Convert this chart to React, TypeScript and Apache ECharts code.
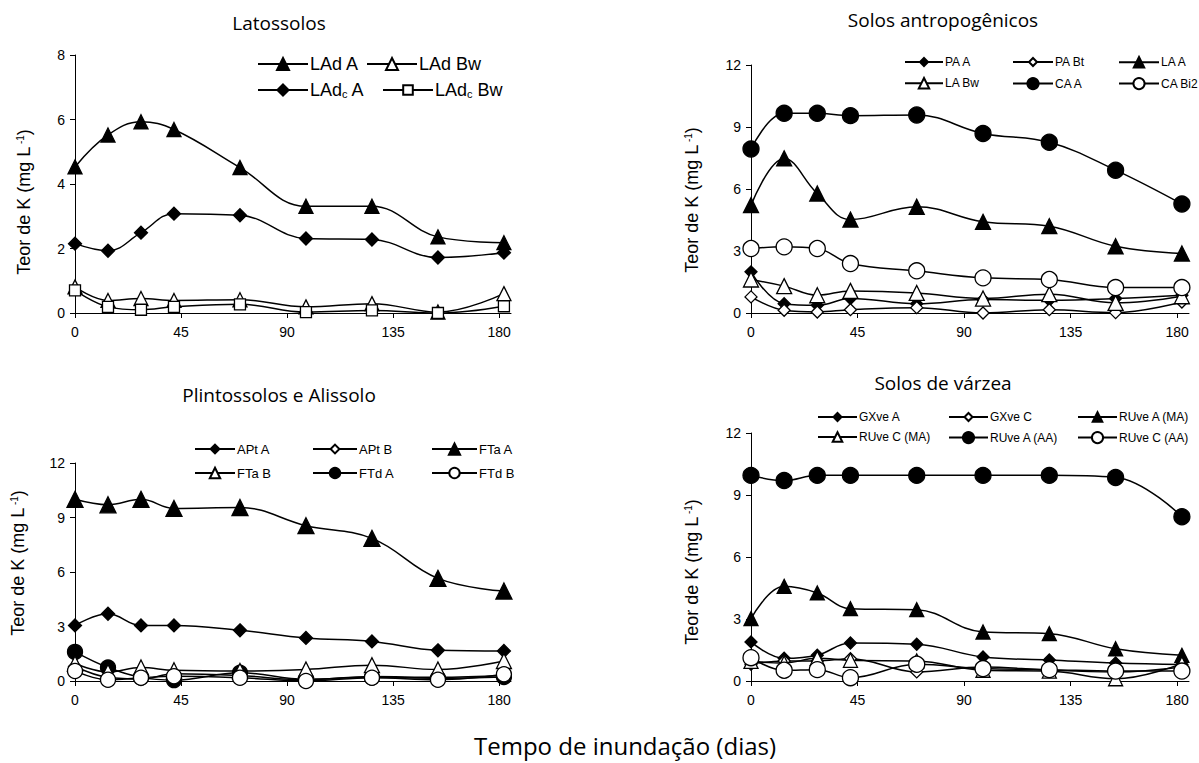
import React, { useEffect, useRef } from 'react';
import * as echarts from 'echarts';

// Sampling days (x values)
const days = [0, 14, 28, 42, 70, 98, 126, 154, 182];
const xTickValues = [0, 45, 90, 135, 180];

// Latossolos
const LAdA = [4.53, 5.52, 5.93, 5.69, 4.51, 3.31, 3.31, 2.36, 2.18];
const LAdBw = [0.81, 0.39, 0.45, 0.39, 0.41, 0.19, 0.29, 0.03, 0.6];
const LAdcA = [2.15, 1.93, 2.49, 3.08, 3.03, 2.31, 2.28, 1.72, 1.87];
const LAdcBw = [0.7, 0.19, 0.1, 0.19, 0.27, 0.03, 0.08, 0, 0.21];

// Solos antropogênicos
const PA_A = [1.99, 0.45, 0.37, 0.7, 0.45, 0.65, 0.62, 0.7, 0.86];
const PA_Bt = [0.78, 0.13, 0.05, 0.16, 0.26, 0, 0.16, 0.02, 0.53];
const LA_A = [5.22, 7.48, 5.78, 4.52, 5.14, 4.41, 4.2, 3.23, 2.88];
const LA_Bw = [1.62, 1.3, 0.86, 1.07, 0.97, 0.7, 0.91, 0.49, 0.81];
const CA_A = [7.93, 9.66, 9.66, 9.55, 9.58, 8.69, 8.26, 6.91, 5.27];
const CA_Bi2 = [3.12, 3.2, 3.12, 2.39, 2.04, 1.7, 1.62, 1.23, 1.23];

// Plintossolos e Alissolo
const APt_A = [3.06, 3.7, 3.06, 3.06, 2.79, 2.37, 2.18, 1.69, 1.65];
const APt_B = [0.8, 0.2, 0.1, 0.4, 0.3, 0.07, 0.25, 0.2, 0.3];
const FTa_A = [10.0, 9.7, 10.0, 9.5, 9.55, 8.55, 7.85, 5.65, 4.95];
const FTa_B = [0.96, 0.5, 0.74, 0.59, 0.55, 0.63, 0.87, 0.63, 1.1];
const FTd_A = [1.6, 0.74, 0.2, 0.05, 0.45, 0.1, 0.2, 0.15, 0.22];
const FTd_B = [0.55, 0.07, 0.18, 0.26, 0.18, 0, 0.18, 0.07, 0.37];

// Solos de várzea
const GXve_A = [1.89, 1.1, 1.25, 1.84, 1.78, 1.16, 1.02, 0.87, 0.8];
const GXve_C = [0.81, 0.97, 0.97, 1.08, 0.44, 0.68, 0.52, 0.44, 0.68];
const RUve_A_MA = [3.02, 4.58, 4.26, 3.5, 3.45, 2.37, 2.29, 1.56, 1.24];
const RUve_C_MA = [0.95, 0.87, 1.1, 1.0, 0.97, 0.52, 0.48, 0.11, 0.84];
const RUve_A_AA = [9.95, 9.7, 9.95, 9.95, 9.95, 9.95, 9.95, 9.85, 7.95];
const RUve_C_AA = [1.13, 0.52, 0.55, 0.16, 0.81, 0.6, 0.55, 0.48, 0.48];

const titles = ['Latossolos', 'Solos antropogênicos', 'Plintossolos e Alissolo', 'Solos de várzea'];
const yMax = [8, 12, 12, 12];
const yInterval = [2, 3, 3, 3];

type Spec = { name: string; data: number[]; panel: number; symbol: string; filled: boolean; size: number };

const specs: Spec[] = [
  { name: 'LAd A', data: LAdA, panel: 0, symbol: 'triangle', filled: true, size: 14 },
  { name: 'LAd Bw', data: LAdBw, panel: 0, symbol: 'triangle', filled: false, size: 14 },
  { name: 'LAdc A', data: LAdcA, panel: 0, symbol: 'diamond', filled: true, size: 13 },
  { name: 'LAdc Bw', data: LAdcBw, panel: 0, symbol: 'rect', filled: false, size: 11 },

  { name: 'PA A', data: PA_A, panel: 1, symbol: 'diamond', filled: true, size: 12 },
  { name: 'PA Bt', data: PA_Bt, panel: 1, symbol: 'diamond', filled: false, size: 12 },
  { name: 'LA A', data: LA_A, panel: 1, symbol: 'triangle', filled: true, size: 15 },
  { name: 'LA Bw', data: LA_Bw, panel: 1, symbol: 'triangle', filled: false, size: 15 },
  { name: 'CA A', data: CA_A, panel: 1, symbol: 'circle', filled: true, size: 16 },
  { name: 'CA Bi2', data: CA_Bi2, panel: 1, symbol: 'circle', filled: false, size: 16 },

  { name: 'APt A', data: APt_A, panel: 2, symbol: 'diamond', filled: true, size: 13 },
  { name: 'APt B', data: APt_B, panel: 2, symbol: 'diamond', filled: false, size: 13 },
  { name: 'FTa A', data: FTa_A, panel: 2, symbol: 'triangle', filled: true, size: 16 },
  { name: 'FTa B', data: FTa_B, panel: 2, symbol: 'triangle', filled: false, size: 15 },
  { name: 'FTd A', data: FTd_A, panel: 2, symbol: 'circle', filled: true, size: 15 },
  { name: 'FTd B', data: FTd_B, panel: 2, symbol: 'circle', filled: false, size: 15 },

  { name: 'GXve A', data: GXve_A, panel: 3, symbol: 'diamond', filled: true, size: 12 },
  { name: 'GXve C', data: GXve_C, panel: 3, symbol: 'diamond', filled: false, size: 12 },
  { name: 'RUve A (MA)', data: RUve_A_MA, panel: 3, symbol: 'triangle', filled: true, size: 14 },
  { name: 'RUve C (MA)', data: RUve_C_MA, panel: 3, symbol: 'triangle', filled: false, size: 14 },
  { name: 'RUve A (AA)', data: RUve_A_AA, panel: 3, symbol: 'circle', filled: true, size: 16 },
  { name: 'RUve C (AA)', data: RUve_C_AA, panel: 3, symbol: 'circle', filled: false, size: 16 },
];

// Layout
const grids = [
  { left: 75, top: 55, width: 436, height: 258 },
  { left: 751, top: 65, width: 438, height: 248 },
  { left: 75, top: 463, width: 436, height: 218 },
  { left: 751, top: 433, width: 438, height: 248 },
];
const titlePos = [
  [279, 23],
  [943, 20],
  [279, 395],
  [943, 383],
];
const yLabelPos = [
  [24, 202],
  [692, 200],
  [18, 563],
  [692, 572],
];

// legend placement: [lineStartX, rowCenterY, lineLength, fontSize]
const legendLayout: Record<string, [number, number, number, number]> = {
  'LAd A': [257, 65, 50, 18],
  'LAd Bw': [366, 65, 50, 18],
  'LAdc A': [257, 91, 50, 18],
  'LAdc Bw': [382, 91, 50, 18],
  'PA A': [904, 63, 38, 12],
  'PA Bt': [1012, 63, 40, 12],
  'LA A': [1118, 63, 40, 12],
  'LA Bw': [904, 84, 38, 12],
  'CA A': [1012, 84, 40, 12],
  'CA Bi2': [1118, 84, 40, 12],
  'APt A': [194, 450, 40, 13],
  'APt B': [312, 450, 44, 13],
  'FTa A': [431, 450, 45, 13],
  'FTa B': [194, 474, 40, 13],
  'FTd A': [312, 474, 44, 13],
  'FTd B': [431, 474, 45, 13],
  'GXve A': [817, 418, 39, 12],
  'GXve C': [948, 418, 39, 12],
  'RUve A (MA)': [1077, 418, 39, 12],
  'RUve C (MA)': [817, 438, 39, 12],
  'RUve A (AA)': [948, 438, 39, 12],
  'RUve C (AA)': [1077, 438, 39, 12],
};

const AXIS_FONT = '"Liberation Sans", Arial, sans-serif';
const TITLE_FONT = '"Open Sans", "DejaVu Sans", sans-serif';

export default function App() {
  const ref = useRef<HTMLDivElement>(null);
  useEffect(() => {
    if (!ref.current) return;
    const chart = echarts.init(ref.current, undefined, { renderer: 'svg' });

    const xAxes = grids.map((_, i) => ({
      type: 'value',
      gridIndex: i,
      min: 0,
      max: 185,
      interval: 45,
      axisLine: { show: true, lineStyle: { color: '#000', width: 1 } },
      axisTick: { show: true, inside: false, length: 5, customValues: xTickValues, lineStyle: { color: '#000' } },
      axisLabel: { customValues: xTickValues, color: '#000', fontSize: 14, fontFamily: AXIS_FONT, margin: 12 },
      splitLine: { show: false },
    }));
    const yAxes = grids.map((_, i) => ({
      type: 'value',
      gridIndex: i,
      min: 0,
      max: yMax[i],
      interval: yInterval[i],
      axisLine: { show: true, onZero: false, lineStyle: { color: '#000', width: 1 } },
      axisTick: { show: true, inside: false, length: 5, lineStyle: { color: '#000' } },
      axisLabel: { color: '#000', fontSize: 14, fontFamily: AXIS_FONT, margin: 10 },
      splitLine: { show: false },
    }));

    const series = specs.map((s) => ({
      name: s.name,
      type: 'line',
      xAxisIndex: s.panel,
      yAxisIndex: s.panel,
      data: days.map((d, k) => [d, s.data[k]]),
      smooth: 0.4,
      clip: false,
      symbol: s.symbol,
      symbolSize: s.size,
      showAllSymbol: true,
      itemStyle: { color: s.filled ? '#000' : '#fff', borderColor: '#000', borderWidth: 1.3 },
      lineStyle: { color: '#000', width: 1.5 },
      emphasis: { disabled: true },
      z: s.filled ? 3 : 4,
    }));

    const legends = specs.map((s) => {
      const [x, y, len, fs] = legendLayout[s.name];
      const symH = Math.round(s.size * (s.panel === 0 ? 1.05 : 0.85));
      const h = Math.max(symH, fs + 2);
      return {
        data: [s.name],
        left: x,
        top: y - h / 2,
        itemWidth: len,
        itemHeight: symH,
        itemGap: 0,
        padding: 0,
        selectedMode: false,
        textStyle: {
          color: '#000',
          fontSize: fs,
          fontFamily: AXIS_FONT,
          padding: [0, 0, 0, -3],
          rich: {
            sub: { fontSize: Math.round(fs * 0.6), fontFamily: AXIS_FONT, color: '#000', verticalAlign: 'bottom', padding: [Math.round(fs * 0.45), 0, 0, 0] },
            n: { fontSize: fs, fontFamily: AXIS_FONT, color: '#000' },
          },
        },
        formatter: (name: string) =>
          name.startsWith('LAdc') ? '{n|LAd}{sub|c}{n|' + name.slice(4) + '}' : name,
      };
    });

    const graphic: any[] = [];
    titles.forEach((t, i) => {
      graphic.push({
        type: 'text',
        x: titlePos[i][0],
        y: titlePos[i][1],
        style: { text: t, fontSize: 19, fontFamily: TITLE_FONT, fill: '#000', align: 'center', verticalAlign: 'middle' },
      });
      graphic.push({
        type: 'text',
        x: yLabelPos[i][0],
        y: yLabelPos[i][1],
        rotation: Math.PI / 2,
        style: {
          text: '{a|Teor de K (mg L}{s| -1}{a|)}',
          align: 'center',
          verticalAlign: 'middle',
          rich: {
            a: { fontSize: 18, fontFamily: AXIS_FONT, fill: '#000', color: '#000' },
            s: { fontSize: 10, fontFamily: AXIS_FONT, fill: '#000', color: '#000', verticalAlign: 'top' },
          },
        },
      });
    });
    graphic.push({
      type: 'text',
      x: 625,
      y: 745,
      style: { text: 'Tempo de inundação (dias)', fontSize: 24, fontFamily: TITLE_FONT, fill: '#000', align: 'center', verticalAlign: 'middle' },
    });

    chart.setOption({
      animation: false,
      backgroundColor: '#fff',
      grid: grids.map((g) => ({ ...g, containLabel: false })),
      xAxis: xAxes,
      yAxis: yAxes,
      legend: legends,
      series,
      graphic,
    } as any);

    return () => chart.dispose();
  }, []);

  return (
    <div
      ref={ref}
      style={{ position: 'fixed', left: 0, top: 0, width: 1199, height: 763, background: '#fff' }}
    />
  );
}
